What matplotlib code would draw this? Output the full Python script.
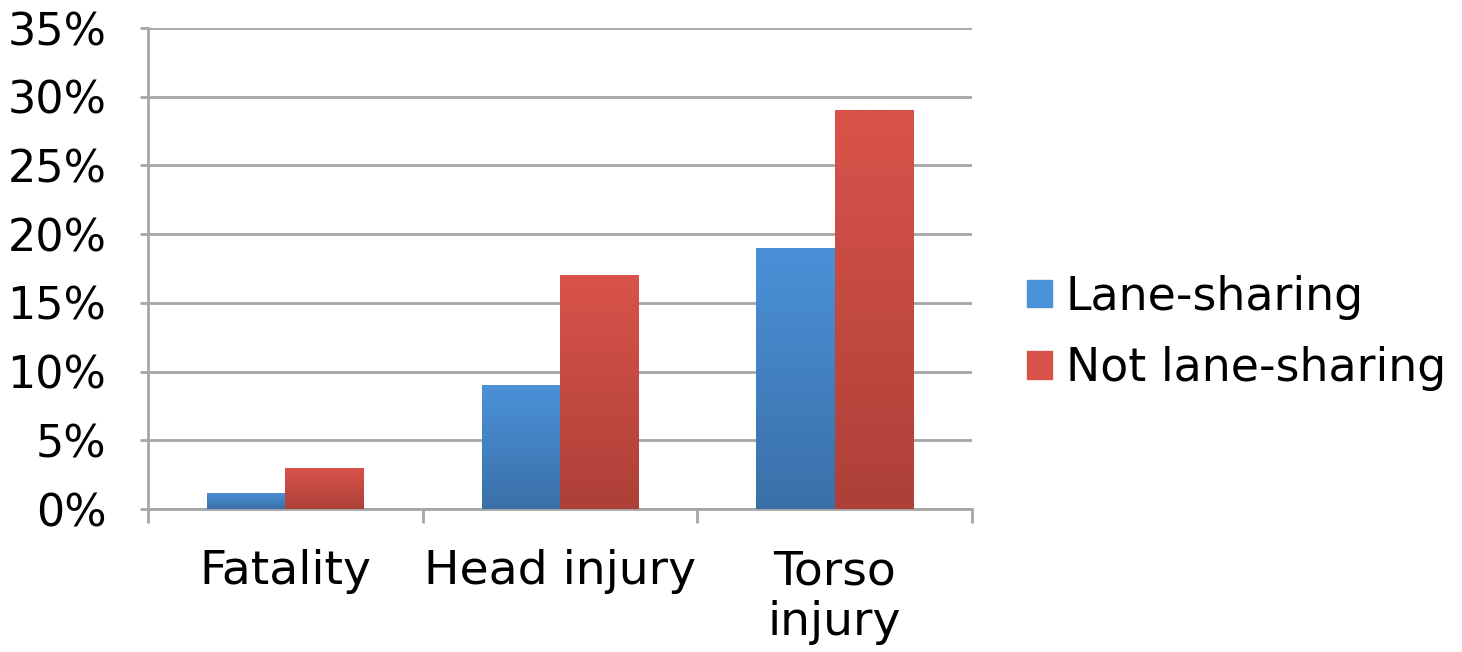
import numpy as np
import matplotlib.pyplot as plt
from matplotlib.colors import LinearSegmentedColormap
from matplotlib.patches import Rectangle

categories = ["Fatality", "Head injury", "Torso\ninjury"]
lane_sharing = [1.2, 9.0, 19.0]
not_lane_sharing = [3.0, 17.0, 29.0]
series_names = ["Lane-sharing", "Not lane-sharing"]

blue_top, blue_bot = "#4b91d8", "#3a70a8"
red_top, red_bot = "#d9534a", "#ad4038"

fig = plt.figure(figsize=(14.62, 6.52), dpi=100)
ax = fig.add_axes([0.1012, 0.2193, 0.5636, 0.7377])

x = np.arange(len(categories))
w = 0.285
grad = np.linspace(0, 1, 256).reshape(-1, 1)


def gradient_bars(xpos, vals, top, bot, label):
    cmap = LinearSegmentedColormap.from_list(label, [bot, top])
    bars = ax.bar(xpos, vals, w, color=top, label=label, zorder=3)
    for b in bars:
        x0, y0 = b.get_x(), b.get_y()
        bw, bh = b.get_width(), b.get_height()
        im = ax.imshow(grad, cmap=cmap, aspect="auto", origin="lower",
                       extent=[x0, x0 + bw, y0, y0 + bh], zorder=3.5)
        im.set_clip_path(b)
    return bars


gradient_bars(x - w / 2, lane_sharing, blue_top, blue_bot, series_names[0])
gradient_bars(x + w / 2, not_lane_sharing, red_top, red_bot, series_names[1])

ax.set_xlim(-0.5, 2.5)
ax.set_ylim(0, 35)
ax.set_yticks(np.arange(0, 36, 5))
ax.set_yticklabels([f"{v}%" for v in range(0, 36, 5)], fontsize=32)
ax.yaxis.grid(True, color="#a6a6a6", linewidth=2, zorder=0)
ax.set_axisbelow(True)

ax.set_xticks([-0.5, 0.5, 1.5, 2.5])
ax.set_xticklabels([])
ax.set_xticks(x, minor=True)
ax.set_xticklabels(categories, minor=True, fontsize=34, linespacing=1.15, va="top")
ax.tick_params(axis="x", which="minor", length=0, pad=29)
ax.tick_params(axis="x", which="major", length=10, width=2, color="#a6a6a6")
ax.tick_params(axis="y", length=6, width=2, color="#a6a6a6", pad=24)

for s in ["top", "right"]:
    ax.spines[s].set_visible(False)
for s in ["left", "bottom"]:
    ax.spines[s].set_color("#a6a6a6")
    ax.spines[s].set_linewidth(2)

handles = [Rectangle((0, 0), 1, 1, color=blue_top), Rectangle((0, 0), 1, 1, color=red_top)]
fig.legend(handles, series_names, loc="center left", bbox_to_anchor=(0.674, 0.489),
           frameon=False, fontsize=33, handlelength=0.55, handleheight=0.55,
           handletextpad=0.3, labelspacing=0.58)

fig.savefig("out.png", dpi=100)
